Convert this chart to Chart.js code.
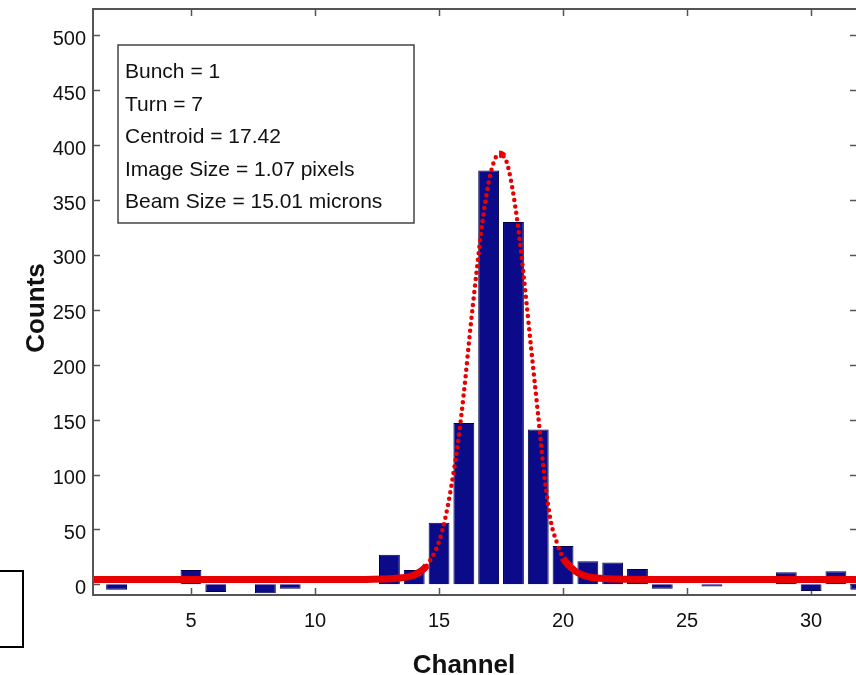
<!DOCTYPE html>
<html>
<head>
<meta charset="utf-8">
<title>Bunch profile</title>
<script src="https://cdn.jsdelivr.net/npm/chart.js@4.4.1/dist/chart.umd.min.js"></script>
<style>
  html, body { margin: 0; padding: 0; background: #fff; overflow: hidden; }
  #wrap { width: 870px; height: 675px; }
</style>
</head>
<body>
<div id="wrap"><canvas id="profileChart" width="870" height="675"></canvas></div>
<script>
// Histogram: counts per channel
const channels = [2, 3, 4, 5, 6, 7, 8, 9, 10, 11, 12, 13, 14, 15, 16, 17,
                  18, 19, 20, 21, 22, 23, 24, 25, 26, 27, 28, 29, 30, 31, 32];
const counts = [-5, 0, 0, 13, -7, 0, -8, -4, 0, 0, 0, 27, 13, 56, 147, 377,
                330, 141, 35, 21, 20, 14, -4, 0, -2, 0, 0, 11, -6, 12, -5];

// Gaussian fit, sampled along the channel axis
const fitChannels = [1, 4, 7, 10, 12, 13, 13.5, 14, 14.5, 15, 15.25, 15.5, 15.75,
                     16, 16.25, 16.5, 16.75, 17, 17.25, 17.42, 17.6, 17.75, 18,
                     18.25, 18.5, 18.75, 19, 19.25, 19.5, 19.75, 20, 20.5, 21,
                     21.5, 22, 25, 28, 31, 33];
const fitCounts = [4.4, 4.4, 4.4, 4.4, 4.5, 5, 6, 8.5, 17, 39, 60, 90, 127,
                   174, 230, 282, 330, 366, 387, 392, 390, 383, 355,
                   314, 262, 207, 153, 98, 58, 38, 24, 12, 7,
                   5.5, 4.8, 4.4, 4.4, 4.4, 4.4];

const infoLines = [
  'Bunch = 1',
  'Turn = 7',
  'Centroid = 17.42',
  'Image Size = 1.07 pixels',
  'Beam Size = 15.01 microns'
];

const FONT = '"Liberation Sans", Arial, Helvetica, sans-serif';
const AXIS_COLOR = '#555';
const TEXT_COLOR = '#111';

const barPoints = channels.map((c, i) => ({ x: c, y: counts[i] }));
const fitPoints = fitChannels.map((c, i) => ({ x: c, y: fitCounts[i] }));

// steep parts of the fit show up as separate dots, flat parts as a solid band
function isSteep(ctx) {
  const dx = Math.abs(ctx.p1.x - ctx.p0.x);
  const dy = Math.abs(ctx.p1.y - ctx.p0.y);
  return dy > dx * 1.1;
}

// MATLAB-style box: inward ticks on all four sides, text box, axis titles
const framePlugin = {
  id: 'frame',
  beforeDatasetsDraw(chart) {
    const { ctx, chartArea: a, scales: { x, y } } = chart;
    ctx.save();
    ctx.strokeStyle = AXIS_COLOR;
    ctx.lineWidth = 1.5;
    ctx.beginPath();
    x.ticks.forEach(t => {
      const px = Math.round(x.getPixelForValue(t.value)) + 0.5;
      ctx.moveTo(px, a.bottom); ctx.lineTo(px, a.bottom - 7);
      ctx.moveTo(px, a.top); ctx.lineTo(px, a.top + 7);
    });
    y.ticks.forEach(t => {
      const py = Math.round(y.getPixelForValue(t.value)) + 0.5;
      ctx.moveTo(a.left, py); ctx.lineTo(a.left + 7, py);
      ctx.moveTo(a.right, py); ctx.lineTo(a.right - 7, py);
    });
    ctx.stroke();
    ctx.restore();
  },
  afterDatasetsDraw(chart) {
    const { ctx, chartArea: a } = chart;
    ctx.save();

    // axes frame
    ctx.strokeStyle = AXIS_COLOR;
    ctx.lineWidth = 2;
    ctx.strokeRect(a.left, a.top, a.right - a.left, a.bottom - a.top);

    // info box
    const bx = a.left + 25, by = 45, bw = 296, bh = 178;
    ctx.fillStyle = '#fff';
    ctx.fillRect(bx, by, bw, bh);
    ctx.strokeStyle = '#444';
    ctx.lineWidth = 1.5;
    ctx.strokeRect(bx, by, bw, bh);
    ctx.fillStyle = TEXT_COLOR;
    ctx.font = '21px ' + FONT;
    ctx.textAlign = 'left';
    ctx.textBaseline = 'alphabetic';
    infoLines.forEach((line, i) => ctx.fillText(line, bx + 7, 78 + i * 32.5));

    // axis titles
    ctx.font = 'bold 26px ' + FONT;
    ctx.textAlign = 'center';
    ctx.fillText('Channel', 464, 673);
    ctx.save();
    ctx.translate(44, 308);
    ctx.rotate(-Math.PI / 2);
    ctx.fillText('Counts', 0, 0);
    ctx.restore();

    // edge of the neighbouring legend box
    ctx.strokeStyle = '#000';
    ctx.lineWidth = 2;
    ctx.strokeRect(-5, 571, 28, 76);

    ctx.restore();
  }
};

const chart = new Chart(document.getElementById('profileChart'), {
  type: 'bar',
  data: {
    datasets: [
      {
        type: 'line',
        data: fitPoints,
        borderColor: '#e80000',
        borderWidth: 7,
        pointRadius: 0,
        cubicInterpolationMode: 'monotone',
        fill: false,
        order: 0,
        segment: {
          borderDash: ctx => isSteep(ctx) ? [0, 6.5] : [],
          borderWidth: ctx => isSteep(ctx) ? 4.5 : 7,
          borderCapStyle: ctx => isSteep(ctx) ? 'round' : 'butt'
        }
      },
      {
        type: 'bar',
        data: barPoints,
        backgroundColor: '#0b0b8a',
        borderColor: '#00004a',
        borderWidth: 1,
        barPercentage: 0.84,
        categoryPercentage: 1.0,
        order: 1
      }
    ]
  },
  options: {
    responsive: false,
    animation: false,
    devicePixelRatio: 1,
    layout: { padding: { top: 9, right: 13, bottom: 0, left: 0 } },
    plugins: {
      legend: { display: false },
      tooltip: { enabled: false }
    },
    scales: {
      x: {
        type: 'linear',
        min: 1.05,
        max: 31.85,
        offset: false,
        grid: { display: false, drawTicks: false, tickLength: 0, offset: false },
        border: { display: false },
        ticks: {
          stepSize: 5,
          includeBounds: false,
          maxRotation: 0,
          autoSkip: false,
          padding: 14,
          color: TEXT_COLOR,
          font: { family: FONT, size: 20 }
        },
        afterFit(scale) { scale.height = 80; }
      },
      y: {
        type: 'linear',
        min: -9.7,
        max: 524,
        grid: { display: false, drawTicks: false, tickLength: 0 },
        border: { display: false },
        ticks: {
          stepSize: 50,
          includeBounds: false,
          padding: 7,
          labelOffset: 4,
          color: TEXT_COLOR,
          font: { family: FONT, size: 20 }
        },
        afterFit(scale) {
          scale.width = 93;
          scale.paddingTop = 0;
          scale.paddingBottom = 0;
        }
      }
    }
  },
  plugins: [framePlugin]
});
</script>
</body>
</html>
